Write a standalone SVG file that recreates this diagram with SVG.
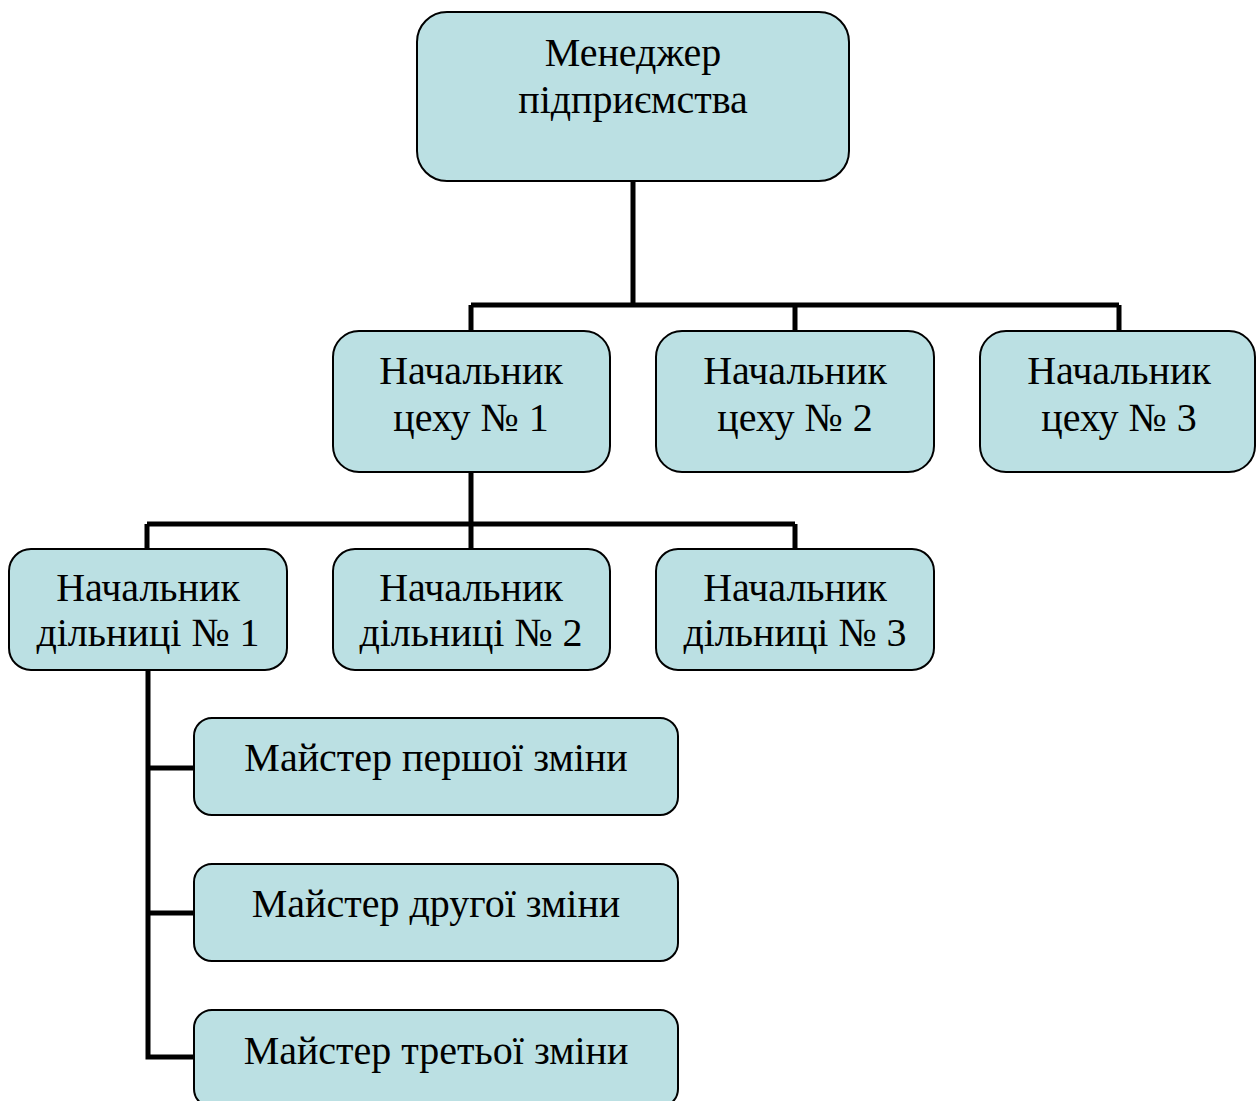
<svg xmlns="http://www.w3.org/2000/svg" width="1256" height="1101" viewBox="0 0 1256 1101">
<style>
.box{fill:#BBE0E3;stroke:#000;stroke-width:2}
.t{font-family:"Liberation Serif","Times New Roman",serif;font-size:40px;fill:#000;text-anchor:middle}
.c{fill:none;stroke:#000;stroke-width:5;stroke-linecap:butt;stroke-linejoin:miter}
</style>
<rect width="1256" height="1101" fill="#fff"/>
<g id="connectors">
<path class="c" d="M633,181 V305 M471,305 H1119 M471,305 V331 M795,305 V331 M1119,305 V331"/>
<path class="c" d="M471,472 V524 M147,524 H795 M147,524 V549 M471,524 V549 M795,524 V549"/>
<path class="c" d="M148,670 V1057 H194 M148,768 H194 M148,913 H194"/>
</g>
<g id="n-manager"><rect class="box" x="417" y="12" width="432" height="169" rx="30"/><text class="t" x="633" y="66">Менеджер</text><text class="t" x="633" y="113">підприємства</text></g>
<g id="n-shop1"><rect class="box" x="333" y="331" width="277" height="141" rx="26"/><text class="t" x="471" y="384">Начальник</text><text class="t" x="471" y="431">цеху № 1</text></g>
<g id="n-shop2"><rect class="box" x="656" y="331" width="278" height="141" rx="26"/><text class="t" x="795" y="384">Начальник</text><text class="t" x="795" y="431">цеху № 2</text></g>
<g id="n-shop3"><rect class="box" x="980" y="331" width="275" height="141" rx="26"/><text class="t" x="1119" y="384">Начальник</text><text class="t" x="1119" y="431">цеху № 3</text></g>
<g id="n-sec1"><rect class="box" x="9" y="549" width="278" height="121" rx="22"/><text class="t" x="148" y="601">Начальник</text><text class="t" x="148" y="646">дільниці № 1</text></g>
<g id="n-sec2"><rect class="box" x="333" y="549" width="277" height="121" rx="22"/><text class="t" x="471" y="601">Начальник</text><text class="t" x="471" y="646">дільниці № 2</text></g>
<g id="n-sec3"><rect class="box" x="656" y="549" width="278" height="121" rx="22"/><text class="t" x="795" y="601">Начальник</text><text class="t" x="795" y="646">дільниці № 3</text></g>
<g id="n-m1"><rect class="box" x="194" y="718" width="484" height="97" rx="18"/><text class="t" x="436" y="771">Майстер першої зміни</text></g>
<g id="n-m2"><rect class="box" x="194" y="864" width="484" height="97" rx="18"/><text class="t" x="436" y="917">Майстер другої зміни</text></g>
<g id="n-m3"><rect class="box" x="194" y="1010" width="484" height="97" rx="18"/><text class="t" x="436" y="1064">Майстер третьої зміни</text></g>
</svg>
